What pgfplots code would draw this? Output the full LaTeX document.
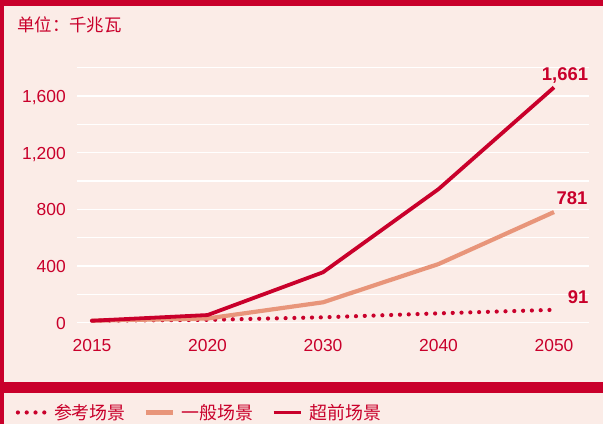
\documentclass[border=0pt]{standalone}
\usepackage{pgfplots}
\pgfplotsset{compat=1.18}
\usepackage{fontspec}
\setmainfont{Liberation Sans}
\newfontfamily\cjk{Noto Sans CJK SC}
\definecolor{cred}{HTML}{C9002B}
\definecolor{csal}{HTML}{E8957A}
\definecolor{cbg}{HTML}{FBECE7}
\begin{document}
\begin{tikzpicture}[x=1bp,y=1bp]
\fill[cbg] (0,0) rectangle (603,424);
\fill[cred] (0,0) rectangle (4,424);
\fill[cred] (0,418) rectangle (603,424);
\fill[cred] (0,31) rectangle (603,42);
\node[anchor=west, text=cred, inner sep=0pt, font=\cjk\fontsize{17.5}{18}\selectfont] at (17,399) {单位：千兆瓦};
\begin{axis}[
  at={(77bp,101.3bp)}, anchor=south west,
  scale only axis, width=512bp, height=255bp,
  xmin=-0.13, xmax=4.303, ymin=0, ymax=1800,
  axis line style={draw=none},
  clip=false,
  xtick={0,1,2,3,4},
  xticklabels={2015,2020,2030,2040,2050},
  ytick={0,400,800,1200,1600},
  minor ytick={200,600,1000,1400,1800},
  ymajorgrids, yminorgrids,
  major grid style={white, line width=1.3bp},
  minor grid style={white, line width=1.3bp},
  major tick length=0pt, minor tick length=0pt,
  tick style={draw=none},
  /pgf/number format/assume math mode=true,
  /pgf/number format/.cd, 1000 sep={,}, /pgfplots/.cd,
  ticklabel style={text=cred, font=\fontsize{17.5}{18}\selectfont, inner sep=0pt},
  xticklabel style={anchor=base, yshift=-28.3bp},
  yticklabel style={anchor=base east, xshift=-11bp, yshift=-6.3bp},
  legend columns=-1,
  legend style={at={(axis description cs:-0.1195,-0.352)}, anchor=west,
    draw=none, fill=none, inner sep=0pt, outer sep=0pt,
    font=\cjk\fontsize{18}{18}\selectfont, text=cred,
    nodes={inner sep=0pt},
    /tikz/every odd column/.append style={column sep=7bp},
    /tikz/every even column/.append style={column sep=18bp}},
  legend image code/.code={\draw[#1] (0bp,0bp) -- (27bp,0bp);},
]
\addplot[cred, line width=4.2bp, line cap=round, dash pattern=on 0bp off 8.8bp] coordinates {(0,14) (1,20) (2,38) (3,66) (4,91)};
\addlegendentry{参考场景}
\addplot[csal, line width=4.2bp, line join=round] coordinates {(0,14) (1,30) (2,144) (3,414) (4,781)};
\addlegendentry{一般场景}
\addplot[cred, line width=3.8bp, line join=round] coordinates {(0,14) (1,54) (2,356) (3,943) (4,1661)};
\addlegendentry{超前场景}
\node[anchor=base, text=cred, font=\bfseries\fontsize{18.5}{19}\selectfont, inner sep=0pt, xshift=11bp, yshift=7bp] at (axis cs:4,1661) {1,661};
\node[anchor=base, text=cred, font=\bfseries\fontsize{18.5}{19}\selectfont, inner sep=0pt, xshift=18bp, yshift=8bp] at (axis cs:4,781) {781};
\node[anchor=base, text=cred, font=\bfseries\fontsize{18.5}{19}\selectfont, inner sep=0pt, xshift=24bp, yshift=6bp] at (axis cs:4,91) {91};
\end{axis}
\end{tikzpicture}
\end{document}
